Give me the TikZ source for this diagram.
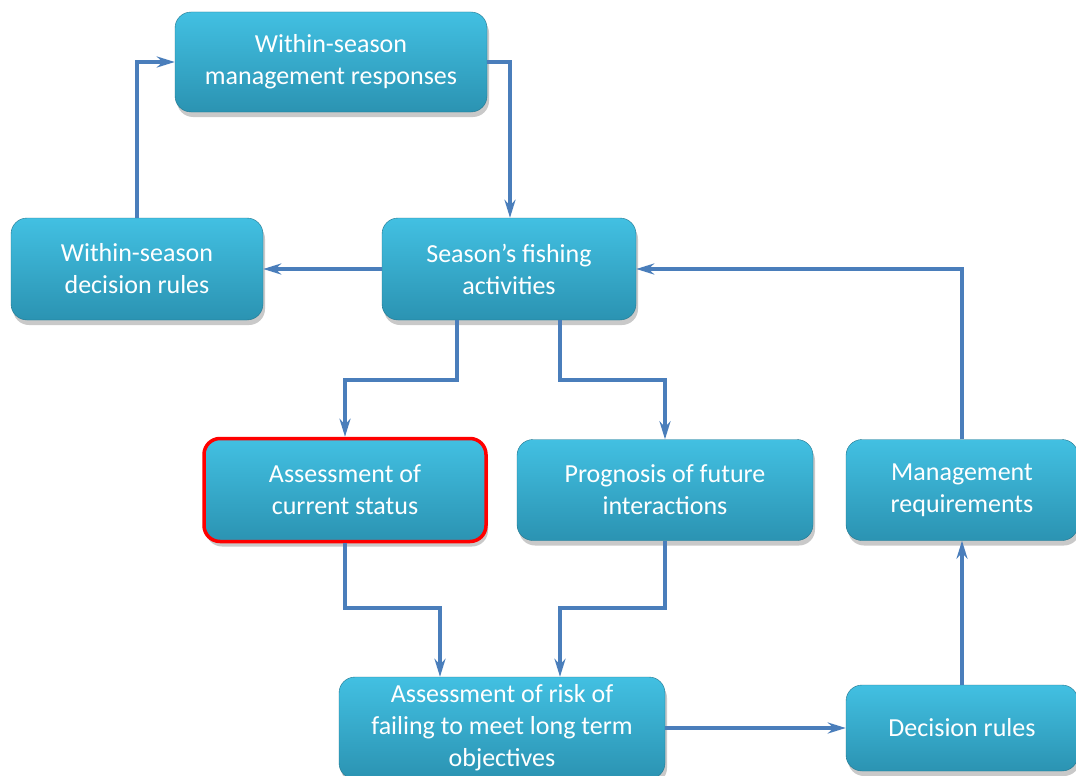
\documentclass[tikz,border=0pt]{standalone}
\usepackage{fontspec}
\setmainfont{Carlito}
\usetikzlibrary{shadows,arrows.meta}
\definecolor{boxtop}{HTML}{42C0E2}
\definecolor{boxbot}{HTML}{2B93B2}
\definecolor{arrowblue}{HTML}{4A7EBB}
\tikzset{
  box/.style={rectangle, rounded corners=16pt, top color=boxtop, bottom color=boxbot,
    draw=boxbot!80!black, line width=0.4pt, text=white, align=center,
    font=\fontsize{26}{32}\selectfont, inner sep=0pt,
    drop shadow={shadow xshift=2pt, shadow yshift=-5pt, opacity=0.35, fill=black!60}},
  hilite/.style={draw=red, line width=3.5pt},
  conn/.style={draw=arrowblue, line width=3.2pt, -{Stealth[length=18pt,width=11pt]}}
}
\begin{document}
\begin{tikzpicture}[x=1pt,y=-1pt]
\useasboundingbox (0,0) rectangle (1076,776);
\fill[white] (0,0) rectangle (1076,776);
\node[box, minimum width=312pt, minimum height=100pt] (wsmr) at (331,62) {Within-season\\management responses};
\node[box, minimum width=252pt, minimum height=102pt] (wsdr) at (137,269) {Within-season\\decision rules};
\node[box, minimum width=254pt, minimum height=102pt] (sfa) at (509,269) {Season’s fishing\\activities};
\node[box, hilite, minimum width=282pt, minimum height=103pt] (acs) at (345,490) {Assessment of\\current status};
\node[box, minimum width=296pt, minimum height=101pt] (pfi) at (665,490) {Prognosis of future\\interactions};
\node[box, minimum width=232pt, minimum height=101pt] (mr) at (962,490) {Management\\requirements};
\node[box, minimum width=326pt, minimum height=102pt] (ar) at (502,728) {Assessment of risk of\\failing to meet long term\\objectives};
\node[box, minimum width=232pt, minimum height=86pt] (dr) at (962,728) {Decision rules};

\coordinate (c1) at (137,62);
\coordinate (c2) at (510,62);
\coordinate (c3a) at (457,380);
\coordinate (c3b) at (345,380);
\coordinate (c4a) at (560,380);
\coordinate (c4b) at (665,380);
\coordinate (c5a) at (345,608);
\coordinate (c5b) at (440,608);
\coordinate (c6a) at (665,608);
\coordinate (c6b) at (560,608);
\coordinate (c7) at (962,269);

\draw[conn] (wsdr.north) -- (c1) -- (wsmr.west);
\draw[conn] (wsmr.east) -- (c2) -- (c2 |- sfa.north);
\draw[conn] (sfa.west) -- (wsdr.east);
\draw[conn] (c3a |- sfa.south) -- (c3a) -- (c3b) -- (acs.north);
\draw[conn] (c4a |- sfa.south) -- (c4a) -- (c4b) -- (pfi.north);
\draw[conn] (acs.south) -- (c5a) -- (c5b) -- (c5b |- ar.north);
\draw[conn] (pfi.south) -- (c6a) -- (c6b) -- (c6b |- ar.north);
\draw[conn] (ar.east) -- (dr.west);
\draw[conn] (dr.north) -- (mr.south);
\draw[conn] (mr.north) -- (c7) -- (sfa.east);
\end{tikzpicture}
\end{document}
